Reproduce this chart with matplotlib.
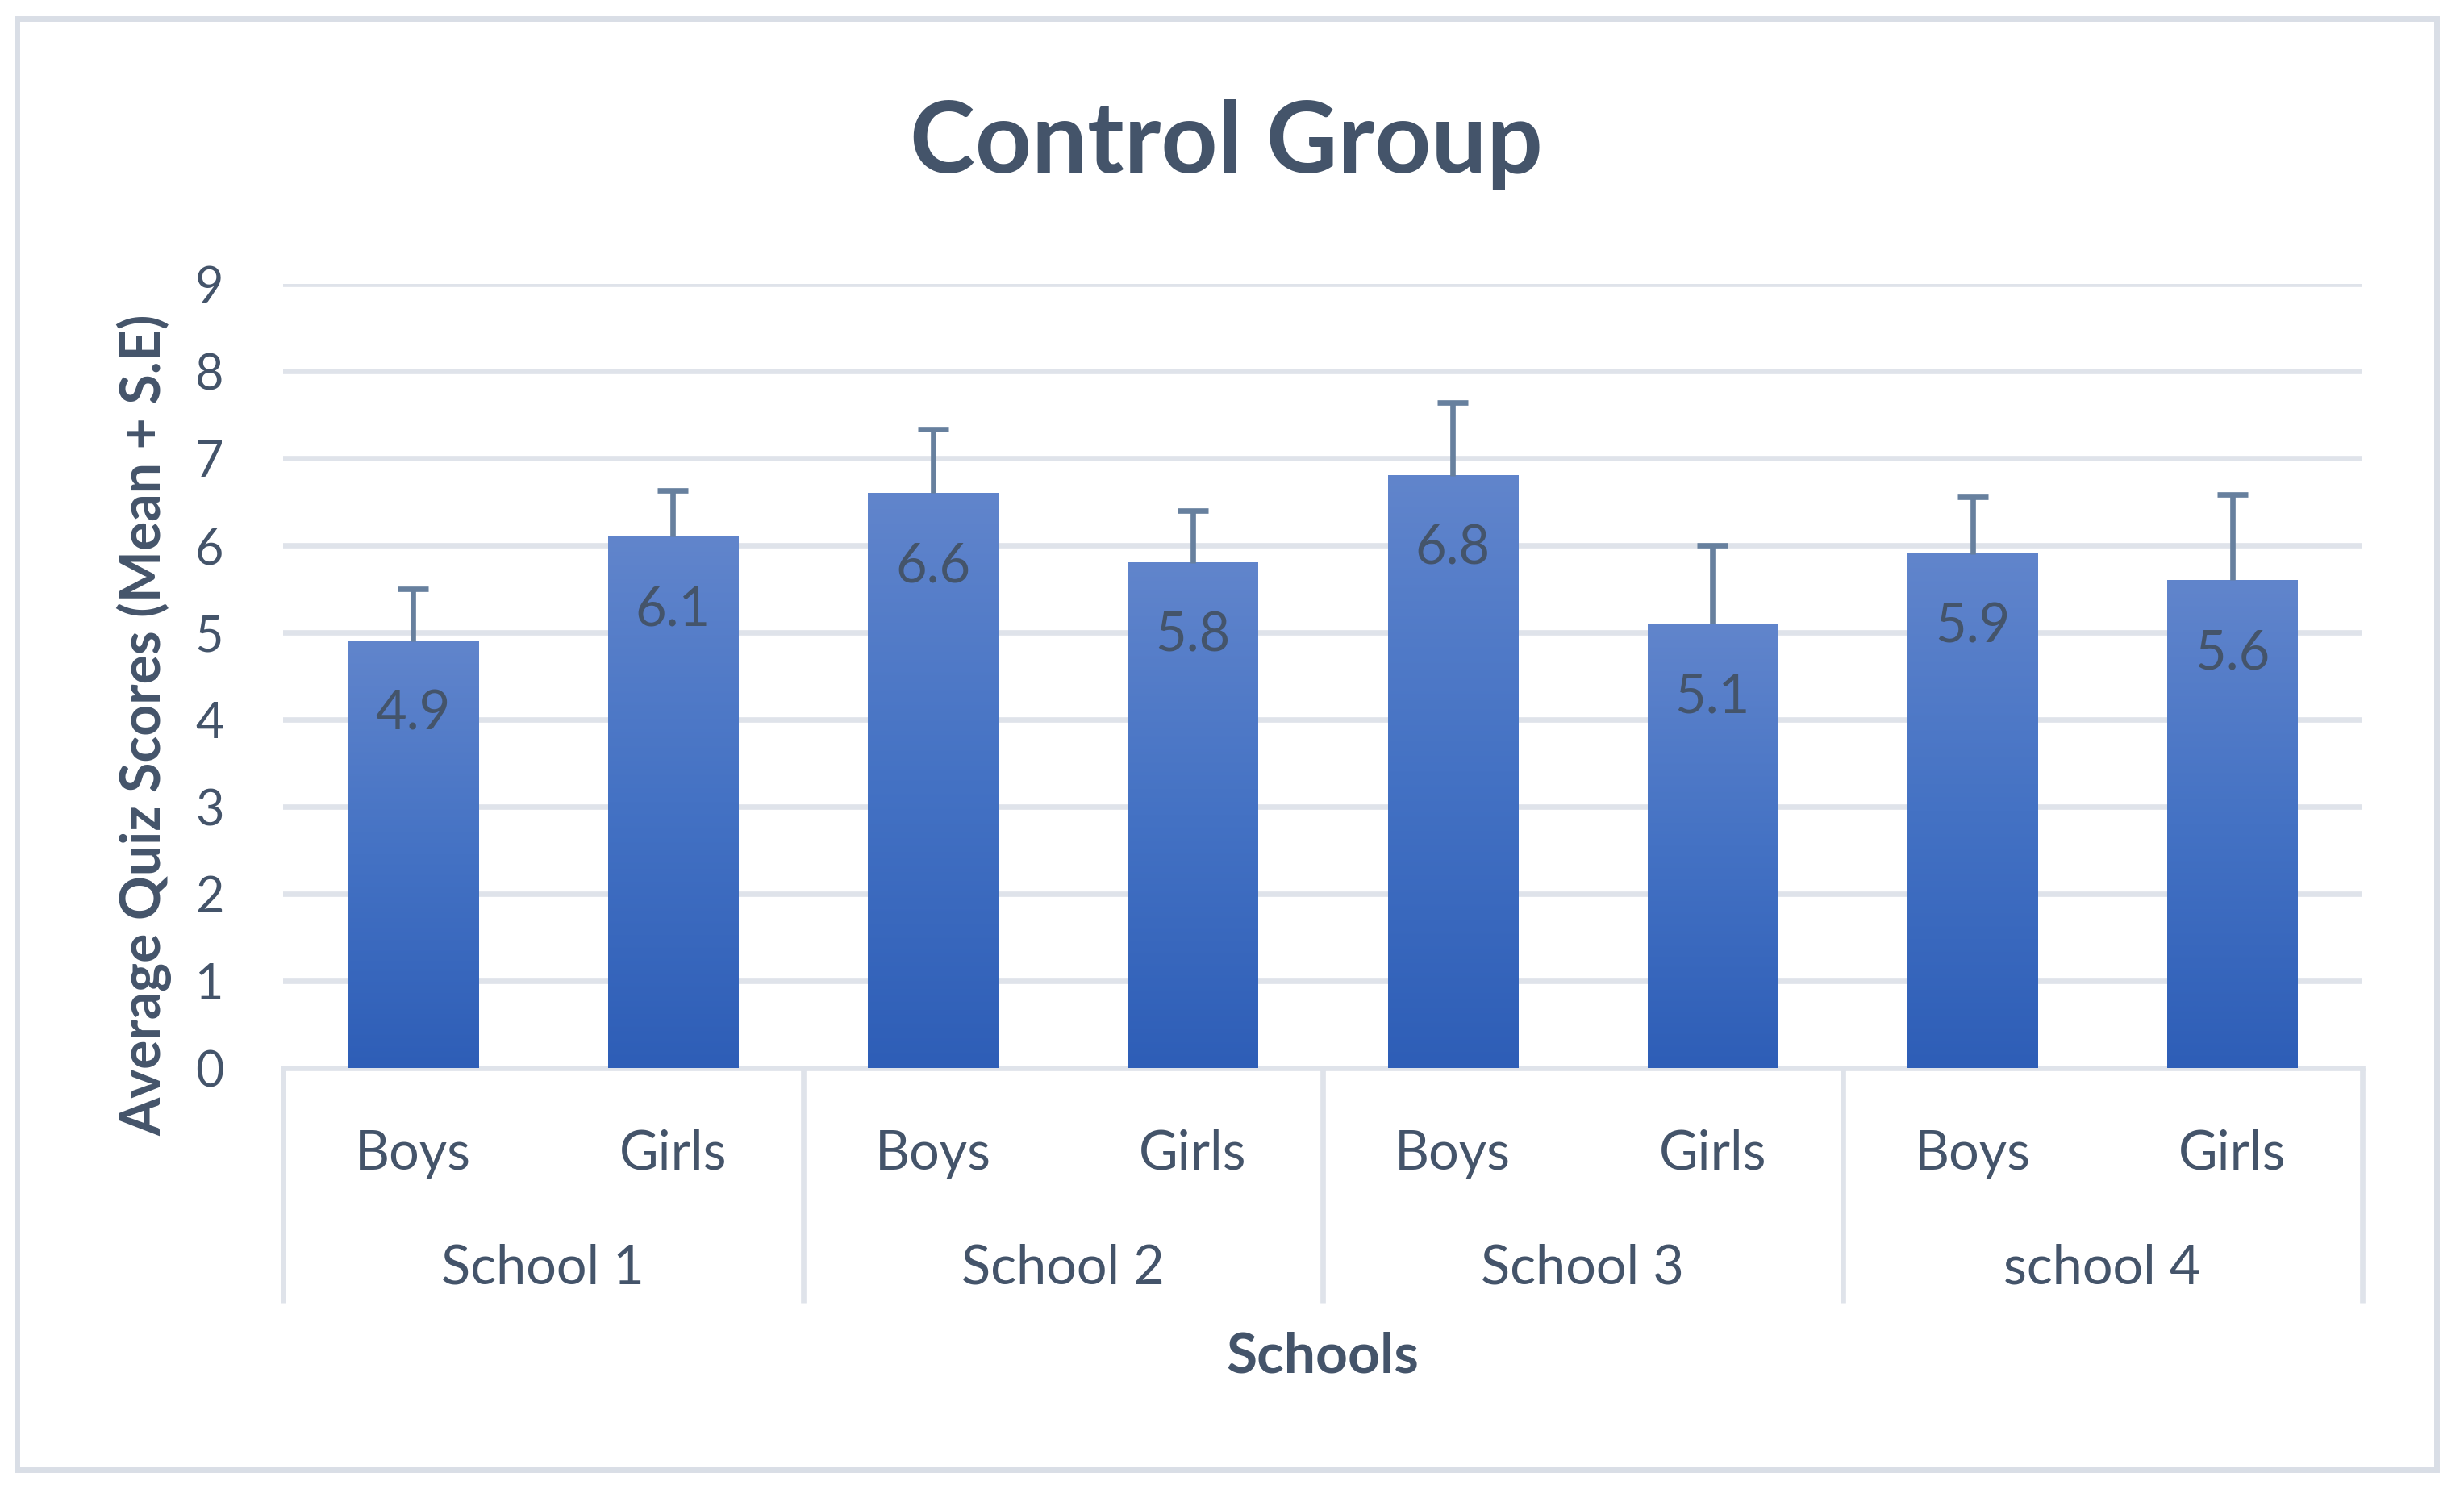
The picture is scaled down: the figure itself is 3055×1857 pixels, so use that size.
import numpy as np
import matplotlib
matplotlib.use('Agg')
import matplotlib.pyplot as plt
from matplotlib.colors import LinearSegmentedColormap
from matplotlib.patches import Rectangle
import matplotlib.transforms as mtransforms

# ---- data ----
schools = ['School 1', 'School 2', 'School 3', 'school 4']
genders = ['Boys', 'Girls']
means = [4.9, 6.1, 6.6, 5.8, 6.8, 5.1, 5.9, 5.6]
se = [0.60, 0.53, 0.73, 0.60, 0.84, 0.90, 0.66, 0.98]
yticks = [0, 1, 2, 3, 4, 5, 6, 7, 8, 9]
title = 'Control Group'
ylabel = 'Average Quiz Scores (Mean + S.E)'
xlabel = 'Schools'

plt.rcParams['font.family'] = ['Lato', 'DejaVu Sans']
TEXT = '#44546A'
GRID = '#DFE3EA'
ERR = '#67809E'
W, H = 3055, 1857

fig = plt.figure(figsize=(W / 200, H / 200), dpi=200)
ax = fig.add_axes([351 / W, (H - 1324) / H, 2578 / W, 972 / H])

x = np.arange(len(means))
bars = ax.bar(x, means, width=0.5, color='none', edgecolor='none', zorder=3)

cmap = LinearSegmentedColormap.from_list('g', ['#2E5EB7', '#4472C4', '#6185CC'])
grad = np.linspace(0, 1, 256).reshape(-1, 1)
for r in bars:
    x0, w, h = r.get_x(), r.get_width(), r.get_height()
    ax.imshow(grad, extent=[x0, x0 + w, 0, h], origin='lower', aspect='auto',
              cmap=cmap, zorder=3, interpolation='bicubic')

eb = ax.errorbar(x, means, yerr=[np.zeros(len(se)), se], fmt='none', ecolor=ERR,
                 elinewidth=2.4, capsize=6.8, capthick=2.4, zorder=4)
# hide the caps sitting on the bar tops (zero lower error)
for cl in eb[1]:
    yd = np.asarray(cl.get_ydata(), dtype=float)
    if np.allclose(yd, means):
        cl.set_visible(False)

ax.set_xlim(-0.5, len(means) - 0.5)
ax.set_ylim(0, 9)
ax.set_yticks(yticks)
ax.set_xticks([])
ax.yaxis.grid(True, color=GRID, lw=2.4)
ax.set_axisbelow(True)
for s in ax.spines.values():
    s.set_visible(False)
ax.tick_params(axis='y', length=0, pad=26.5, labelsize=22, labelcolor=TEXT)

trans = mtransforms.blended_transform_factory(ax.transData, ax.transAxes)
ax.plot([-0.5, len(means) - 0.5], [0, 0], transform=trans, clip_on=False,
        color=GRID, lw=2.4, zorder=2)
for b in np.arange(-0.5, len(means), 2):
    ax.plot([b, b], [0, -0.2994], transform=trans, clip_on=False,
            color=GRID, lw=2.4, solid_capstyle='butt')

for i in x:
    ax.text(i, -0.1296, genders[i % 2], transform=trans, ha='center',
            va='baseline', fontsize=24, color=TEXT)
for j, s in enumerate(schools):
    ax.text(2 * j + 0.5, -0.2747, s, transform=trans, ha='center',
            va='baseline', fontsize=24, color=TEXT)
ax.text((len(means) - 1) / 2, -0.388, xlabel, transform=trans, ha='center',
        va='baseline', fontsize=25, fontweight='bold', color=TEXT)

for i, m in zip(x, means):
    ax.annotate(f'{m:.1f}', xy=(i, m), xytext=(0, -39.6),
                textcoords='offset points', ha='center', va='baseline',
                fontsize=24, color=TEXT, zorder=5)

fig.text(1520 / W, 1 - 214 / H, title, ha='center', va='baseline', fontsize=44,
         fontweight='bold', color=TEXT)
fig.text(179 / W, 0.5159, ylabel, rotation=90, ha='center', va='center',
         fontsize=24.5, fontweight='bold', color=TEXT)

fig.patches.append(Rectangle((20.5 / W, 1 - 1822 / H), (3021 - 20.5) / W,
                             (1822 - 22.5) / H, transform=fig.transFigure,
                             fill=False, edgecolor='#D9DEE6', lw=2.5))

fig.savefig('out.png', dpi=200, facecolor='white')
